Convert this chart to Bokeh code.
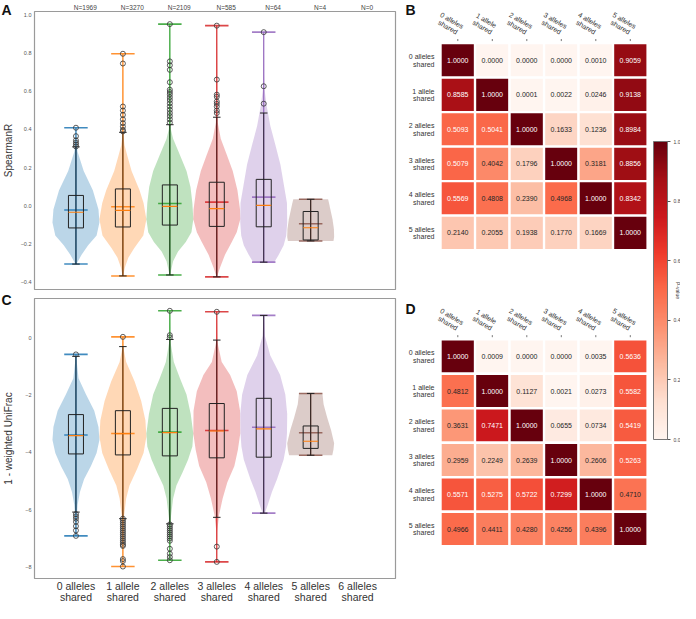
import numpy as np
from bokeh.plotting import figure
from bokeh.models import (Range1d, FixedTicker, ColorBar, LinearColorMapper,
                          ColumnDataSource, LinearAxis, CustomJSTickFormatter, PrintfTickFormatter)
from bokeh.layouts import row, column
from bokeh.core.properties import value
from bokeh.embed import file_html
from bokeh.resources import INLINE

FONT = "Liberation Sans"
COLORS = ["#1f77b4", "#ff7f0e", "#2ca02c", "#d62728", "#9467bd", "#8c564b"]

# ---------------- data ----------------
categories = ["0 alleles\nshared", "1 allele\nshared", "2 alleles\nshared", "3 alleles\nshared",
              "4 alleles\nshared", "5 alleles\nshared", "6 alleles\nshared"]
group_n = [1969, 3270, 2109, 585, 64, 4, 0]

# Panel A: SpearmanR
a_min = [-0.304, -0.366, -0.361, -0.371, -0.294, -0.183]
a_max = [0.409, 0.796, 0.951, 0.943, 0.909, 0.035]
a_mean = [-0.021, -0.004, 0.013, 0.020, 0.046, -0.093]
a_median = [-0.033, -0.023, -0.002, -0.014, 0.003, -0.114]
a_q1 = [-0.115, -0.110, -0.100, -0.107, -0.109, -0.178]
a_q3 = [0.055, 0.089, 0.110, 0.124, 0.139, -0.029]
a_wlo = [-0.304, -0.366, -0.361, -0.371, -0.294, -0.183]
a_whi = [0.309, 0.385, 0.425, 0.464, 0.486, 0.035]
a_outliers = [
    [0.409, 0.365, 0.343, 0.331, 0.321, 0.311],
    [0.796, 0.745, 0.520, 0.499, 0.476, 0.453, 0.433, 0.415, 0.398, 0.390],
    [0.951, 0.756, 0.736, 0.712, 0.647, 0.608, 0.596, 0.584, 0.569, 0.554, 0.537, 0.520,
     0.503, 0.486, 0.470, 0.453, 0.436],
    [0.943, 0.661, 0.582, 0.571, 0.546, 0.534, 0.520, 0.499, 0.486],
    [0.909, 0.626, 0.535],
    [],
]
a_prof_y = [
    [-0.304, -0.255, -0.205, -0.154, -0.087, -0.019, 0.082, 0.183, 0.284, 0.335, 0.409],
    [-0.366, -0.322, -0.271, -0.221, -0.154, -0.070, 0.015, 0.082, 0.183, 0.267, 0.318, 0.368, 0.796],
    [-0.361, -0.289, -0.238, -0.188, -0.137, -0.070, 0.015, 0.099, 0.183, 0.267, 0.352, 0.402, 0.951],
    [-0.371, -0.322, -0.255, -0.188, -0.137, -0.070, -0.019, 0.082, 0.183, 0.267, 0.352, 0.436, 0.943],
    [-0.294, -0.255, -0.205, -0.154, -0.087, 0.015, 0.116, 0.217, 0.318, 0.419, 0.520, 0.604, 0.689, 0.909],
    [-0.183, -0.163, -0.120, -0.070, -0.019, 0.015, 0.035],
]
a_prof_w = [
    [0.02, 0.24, 0.52, 0.88, 1.0, 0.96, 0.72, 0.33, 0.07, 0.02, 0.01],
    [0.01, 0.085, 0.23, 0.48, 0.87, 1.0, 0.88, 0.71, 0.37, 0.18, 0.07, 0.02, 0.005],
    [0.01, 0.14, 0.35, 0.68, 0.92, 1.0, 0.96, 0.88, 0.71, 0.43, 0.14, 0.04, 0.005],
    [0.01, 0.14, 0.35, 0.64, 0.85, 1.0, 0.99, 0.88, 0.68, 0.43, 0.17, 0.04, 0.005],
    [0.45, 0.64, 0.85, 0.96, 1.0, 0.99, 0.85, 0.71, 0.50, 0.28, 0.13, 0.04, 0.02, 0.005],
    [0.97, 1.0, 0.99, 0.93, 0.84, 0.78, 0.74],
]

# Panel C: 1 - weighted UniFrac
c_min = [-6.91, -7.977, -7.761, -7.818, -6.116, -4.096]
c_max = [-0.579, 0.034, 0.942, 0.908, 0.783, -1.940]
c_mean = [-3.393, -3.336, -3.29, -3.234, -3.120, -3.313]
c_median = [-3.41, -3.34, -3.31, -3.25, -3.177, -3.608]
c_q1 = [-4.051, -4.085, -4.119, -4.187, -4.164, -3.858]
c_q3 = [-2.678, -2.542, -2.462, -2.292, -2.110, -3.075]
c_wlo = [-6.08, -6.31, -6.49, -6.263, -6.116, -4.096]
c_whi = [-0.647, -0.306, -0.057, -0.079, 0.783, -1.940]
c_outliers = [
    [-0.579, -6.15, -6.23, -6.31, -6.42, -6.57, -6.72, -6.91],
    [0.034, -6.31, -6.38, -6.45, -6.52, -6.59, -6.66, -6.73, -6.80, -6.87, -6.94, -7.01,
     -7.08, -7.15, -7.22, -7.26, -7.72, -7.79, -7.98],
    [0.942, 0.091, 0.013, -6.51, -6.58, -6.65, -6.72, -6.79, -6.86, -6.93, -7.00, -7.08,
     -7.36, -7.53, -7.65, -7.76],
    [0.908, -7.285, -7.818],
    [],
    [],
]
c_prof_y = [
    [-6.91, -6.514, -5.833, -5.379, -4.925, -4.471, -4.017, -3.563, -3.109, -2.542, -1.974, -1.407, -0.726, -0.579],
    [-7.977, -7.081, -6.287, -5.606, -5.152, -4.584, -4.017, -3.450, -2.883, -2.202, -1.521, -0.840, -0.386, 0.034],
    [-7.761, -7.081, -6.287, -5.606, -5.152, -4.698, -4.244, -3.790, -3.336, -2.655, -1.974, -1.407, -0.840, -0.159, 0.942],
    [-7.818, -6.740, -6.173, -5.606, -5.038, -4.471, -3.904, -3.336, -2.542, -1.861, -1.294, -0.840, -0.159, 0.908],
    [-6.116, -5.833, -5.379, -4.925, -4.244, -3.790, -3.336, -2.655, -1.974, -1.294, -0.613, 0.068, 0.783],
    [-4.096, -3.904, -3.677, -3.223, -2.769, -2.315, -1.940],
]
c_prof_w = [
    [0.005, 0.02, 0.07, 0.17, 0.35, 0.64, 0.88, 1.0, 0.96, 0.78, 0.43, 0.11, 0.02, 0.005],
    [0.005, 0.015, 0.04, 0.14, 0.28, 0.60, 0.88, 1.0, 0.96, 0.78, 0.50, 0.14, 0.03, 0.005],
    [0.005, 0.015, 0.04, 0.14, 0.28, 0.54, 0.78, 0.96, 1.0, 0.89, 0.71, 0.43, 0.17, 0.03, 0.005],
    [0.005, 0.02, 0.10, 0.25, 0.45, 0.75, 0.90, 1.0, 0.99, 0.85, 0.57, 0.21, 0.03, 0.005],
    [0.05, 0.17, 0.35, 0.57, 0.85, 0.95, 0.99, 1.0, 0.92, 0.70, 0.28, 0.05, 0.005],
    [0.92, 0.97, 1.0, 0.87, 0.70, 0.55, 0.50],
]

# Heatmaps (P-values)
hm_labels = ["0 alleles\nshared", "1 allele\nshared", "2 alleles\nshared",
             "3 alleles\nshared", "4 alleles\nshared", "5 alleles\nshared"]
b_vals = [
    [1.0000, 0.0000, 0.0000, 0.0000, 0.0010, 0.9059],
    [0.8585, 1.0000, 0.0001, 0.0022, 0.0246, 0.9138],
    [0.5093, 0.5041, 1.0000, 0.1633, 0.1236, 0.8984],
    [0.5079, 0.4042, 0.1796, 1.0000, 0.3181, 0.8856],
    [0.5569, 0.4808, 0.2390, 0.4968, 1.0000, 0.8342],
    [0.2140, 0.2055, 0.1938, 0.1770, 0.1669, 1.0000],
]
d_vals = [
    [1.0000, 0.0009, 0.0000, 0.0000, 0.0035, 0.5636],
    [0.4812, 1.0000, 0.1127, 0.0021, 0.0273, 0.5582],
    [0.3631, 0.7471, 1.0000, 0.0655, 0.0734, 0.5419],
    [0.2959, 0.2249, 0.2639, 1.0000, 0.2606, 0.5263],
    [0.5571, 0.5275, 0.5722, 0.7299, 1.0000, 0.4710],
    [0.4966, 0.4411, 0.4280, 0.4256, 0.4396, 1.0000],
]
cbar_ticks = [0.0, 0.2, 0.4, 0.6, 0.8, 1.0]

# ---------------- helpers ----------------
REDS9 = ['#fff5f0', '#fee0d2', '#fcbba1', '#fc9272', '#fb6a4a', '#ef3b2c', '#cb181d', '#a50f15', '#67000d']


def interp_palette(cols, n):
    rgb = np.array([[int(c[i:i + 2], 16) for i in (1, 3, 5)] for c in cols], dtype=float)
    t = np.linspace(0, 1, len(cols))
    out = []
    for v in np.linspace(0, 1, n):
        r, g, b = (np.interp(v, t, rgb[:, k]) for k in range(3))
        out.append("#%02x%02x%02x" % (int(round(r)), int(round(g)), int(round(b))))
    return out


REDS = interp_palette(REDS9, 256)

XR = (-0.883, 6.807)
LW = 387          # width of the left column figures
BL, BR = 15, 9    # left / right borders of violin panels


def violin_panel(height, yr, ticks, fmt_code, prof_y, prof_w, vmin, vmax, vmean, vmed,
                 q1, q3, wlo, whi, outl, top_border):
    p = figure(width=LW, height=height, x_range=Range1d(*XR), y_range=Range1d(*yr),
               output_backend="svg", toolbar_location=None, x_axis_location=None,
               min_border_left=BL, min_border_right=BR, min_border_top=top_border,
               min_border_bottom=1)
    p.grid.visible = False
    p.outline_line_color = "#9a9a9a"
    p.outline_line_width = 1.2

    ya = p.yaxis[0]
    ya.ticker = FixedTicker(ticks=ticks)
    ya.formatter = CustomJSTickFormatter(code=fmt_code)
    ya.major_label_text_font = FONT
    ya.major_label_text_font_size = "5.5px"
    ya.major_label_text_color = "#555555"
    ya.major_label_standoff = 3
    ya.major_tick_out = 0
    ya.major_tick_in = 0
    ya.minor_tick_out = 0
    ya.minor_tick_in = 0
    ya.axis_line_color = None

    pos = list(range(len(vmin)))
    for k in pos:
        yy, ww = prof_y[k], prof_w[k]
        xs = [k - 0.5 * w for w in ww] + [k + 0.5 * w for w in reversed(ww)]
        ys = list(yy) + list(reversed(yy))
        p.patch(xs, ys, fill_color=COLORS[k], fill_alpha=0.3, line_alpha=0)
    p.segment(x0=pos, y0=vmin, x1=pos, y1=vmax, line_color=COLORS, line_width=1.2)
    for arr in (vmin, vmax, vmean):
        p.segment(x0=[c - 0.25 for c in pos], y0=arr, x1=[c + 0.25 for c in pos], y1=arr,
                  line_color=COLORS, line_width=1.6, line_alpha=0.85)
    p.segment(x0=pos, y0=wlo, x1=pos, y1=whi, line_color="#111111", line_alpha=0.8, line_width=1)
    p.quad(left=[c - 0.16 for c in pos], right=[c + 0.16 for c in pos], bottom=q1, top=q3,
           fill_alpha=0, line_color="#222222", line_width=1)
    for arr in (wlo, whi):
        p.segment(x0=[c - 0.08 for c in pos], y0=arr, x1=[c + 0.08 for c in pos], y1=arr,
                  line_color="#222222", line_width=1)
    p.segment(x0=[c - 0.16 for c in pos], y0=vmed, x1=[c + 0.16 for c in pos], y1=vmed,
              line_color="#ff7f0e", line_width=1.2)
    ox, oy = [], []
    for k in pos:
        ox += [k] * len(outl[k])
        oy += outl[k]
    p.scatter(x=ox, y=oy, marker="circle", size=5, fill_alpha=0, line_color="#333333", line_width=0.8)
    return p


fmt1 = "return tick.toFixed(1).replace('-', '\u2212');"
fmt0 = "return tick.toFixed(0).replace('-', '\u2212');"

HA, HC, HX = 290, 289, 24
pA = violin_panel(HA, (-0.437, 1.017), [-0.4, -0.2, 0.0, 0.2, 0.4, 0.6, 0.8, 1.0], fmt1,
                  a_prof_y, a_prof_w, a_min, a_max, a_mean, a_median, a_q1, a_q3, a_wlo, a_whi,
                  a_outliers, 9)
pA.extra_x_ranges = {"n": Range1d(XR[0] - 0.2, XR[1] - 0.2)}
nax = LinearAxis(x_range_name="n", ticker=FixedTicker(ticks=list(range(len(group_n)))),
                 major_label_overrides={i: f"N={n}" for i, n in enumerate(group_n)},
                 major_label_text_font=FONT, major_label_text_font_size="6.5px",
                 major_label_text_color="#444444", major_label_standoff=1,
                 major_tick_out=0, major_tick_in=0, minor_tick_out=0, minor_tick_in=0,
                 axis_line_color=None)
pA.add_layout(nax, "above")

pC = violin_panel(HC, (-8.397, 1.372), [-8, -6, -4, -2, 0], fmt0,
                  c_prof_y, c_prof_w, c_min, c_max, c_mean, c_median, c_q1, c_q3, c_wlo, c_whi,
                  c_outliers, 8)

# category labels under panel C (shares the violin x scale)
px = figure(width=LW, height=HX, x_range=Range1d(*XR), y_range=Range1d(0, HX),
            output_backend="svg", toolbar_location=None, x_axis_location=None, y_axis_location=None,
            min_border_left=BL, min_border_right=BR, min_border_top=0, min_border_bottom=0,
            outline_line_color=None)
px.grid.visible = False
px.text(x=list(range(len(categories))), y=[HX / 2] * len(categories), text=categories,
        text_align="center", text_baseline="middle", text_font_size="10.5px", text_font=value(FONT),
        text_color="#333333", text_line_height=0.95)

# strip with panel letters and y-axis titles
TOT_H = HA + HC + HX
ps = figure(width=17, height=TOT_H, x_range=Range1d(0, 17), y_range=Range1d(0, TOT_H),
            output_backend="svg", toolbar_location=None, x_axis_location=None, y_axis_location=None,
            min_border=0, outline_line_color=None)
ps.grid.visible = False
ps.text(x=[1, 1], y=[TOT_H - 1, TOT_H - HA - 1], text=["A", "C"], text_align="left",
        text_baseline="top", text_font_size="14px", text_font_style="bold", text_font=value(FONT),
        text_color="#111111")
ps.text(x=[8, 8], y=[TOT_H - 150, TOT_H - (HA + 8 + (HC - 9) / 2)],
        text=["SpearmanR", "1 - weighted UniFrac"], angle=1.5708, text_align="center",
        text_baseline="middle", text_font_size="10px", text_font=value(FONT), text_color="#333333")

# ---------------- heatmaps ----------------
q = figure(width=276, height=TOT_H, x_range=Range1d(-1.545, 6.455), y_range=Range1d(-15.742, 1.736),
           output_backend="svg", toolbar_location=None, x_axis_location=None, y_axis_location=None,
           min_border=0, outline_line_color=None)
q.grid.visible = False
mapper = LinearColorMapper(palette=REDS, low=0, high=1)
D_OFF = 8.583

for vals, off, letter in ((b_vals, 0.0, "B"), (d_vals, D_OFF, "D")):
    n = len(vals)
    xs, ys, vs, txt, tc = [], [], [], [], []
    for i in range(n):
        for j in range(n):
            xs.append(j)
            ys.append(-(off + i))
            vs.append(vals[i][j])
            txt.append(f"{vals[i][j]:.4f}")
            tc.append("white" if vals[i][j] > 0.5 else "#262626")
    src = ColumnDataSource(dict(x=xs, y=ys, v=vs, txt=txt, tc=tc))
    q.rect(x="x", y="y", width=1, height=1, source=src,
           fill_color={"field": "v", "transform": mapper}, line_color="white", line_width=2.3)
    q.text(x="x", y="y", text="txt", text_color="tc", source=src, text_align="center",
           text_baseline="middle", text_font_size="7px", text_font=value(FONT))
    q.text(x=[-0.675] * n, y=[-(off + i) for i in range(n)], text=hm_labels,
           text_align="right", text_baseline="middle", text_font_size="7px",
           text_font=value(FONT), text_color="#333333", text_line_height=1.1)
    q.text(x=[j - 0.23 for j in range(n)], y=[-off + 1.06] * n, text=hm_labels,
           angle=-0.5236, text_align="center", text_baseline="middle", text_font_size="7px",
           text_font=value(FONT), text_color="#333333", text_line_height=1.1)
    q.segment(x0=list(range(n)), y0=[-off + 0.56] * n, x1=list(range(n)), y1=[-off + 0.62] * n,
              line_color="#555555", line_width=0.8)
    ly = 1.707 if letter == "B" else -6.96
    q.text(x=[-1.516], y=[ly], text=[letter], text_align="left", text_baseline="top",
           text_font_size="14px", text_font_style="bold", text_font=value(FONT), text_color="#111111")

cb = ColorBar(color_mapper=mapper, location=(249, 164), width=14, height=298, padding=0,
              ticker=FixedTicker(ticks=cbar_ticks), formatter=PrintfTickFormatter(format="%.1f"),
              major_label_text_font_size="5px", major_label_text_font=FONT,
              major_label_text_color="#444444", major_tick_out=3, major_tick_in=0,
              major_tick_line_color="#555555", minor_tick_out=0, minor_tick_in=0,
              bar_line_color="#777777", border_line_color=None, background_fill_alpha=0,
              label_standoff=3)
q.add_layout(cb)
q.text(x=[6.37], y=[-6.67], text=["P-value"], angle=-1.5708, text_align="center",
       text_baseline="middle", text_font_size="5px", text_font=value(FONT), text_color="#444444")

layout = row(ps, column(pA, pC, px), q)
open("out.html", "w").write(file_html(layout, INLINE))
